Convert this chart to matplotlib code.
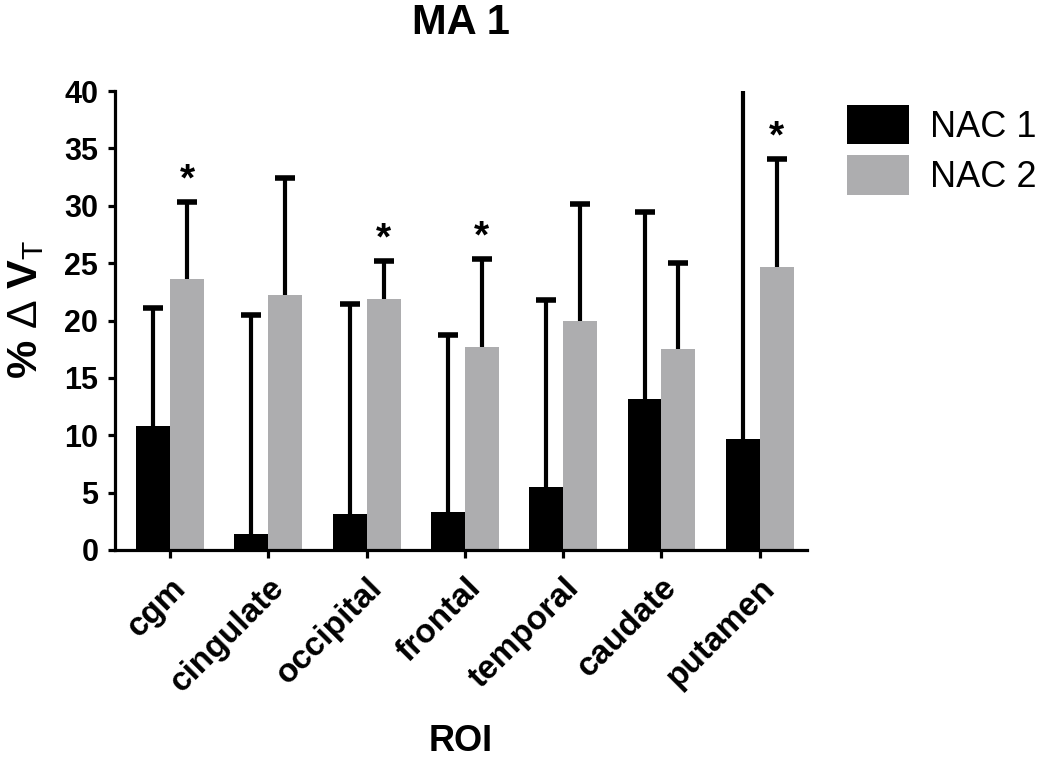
import numpy as np
import matplotlib
matplotlib.use('Agg')
import matplotlib.pyplot as plt

plt.rcParams['font.family'] = ['Liberation Sans', 'DejaVu Sans']
plt.rcParams['mathtext.fontset'] = 'custom'
plt.rcParams['mathtext.rm'] = 'Liberation Sans'
plt.rcParams['mathtext.bf'] = 'Liberation Sans:bold'
plt.rcParams['mathtext.it'] = 'Liberation Sans:italic'

rois = ['cgm', 'cingulate', 'occipital', 'frontal', 'temporal', 'caudate', 'putamen']
nac1 = [10.8, 1.4, 3.1, 3.3, 5.45, 13.2, 9.7]
nac1_top = [21.1, 20.45, 21.4, 18.7, 21.75, 29.5, 45.0]
nac2 = [23.6, 22.2, 21.9, 17.7, 20.0, 17.5, 24.7]
nac2_top = [30.3, 32.4, 25.2, 25.4, 30.2, 25.0, 34.1]
signif = [True, False, True, True, False, False, True]

black = '#000000'
gray = '#adadaf'

fig = plt.figure(figsize=(10.5, 7.59), dpi=100)
ax = fig.add_axes([0.1095, 0.2754, 0.659, 0.6046])

x = np.arange(len(rois))
w = 0.345

ax.bar(x - w/2, nac1, w, color=black, label='NAC 1', zorder=2)
ax.bar(x + w/2, nac2, w, color=gray, label='NAC 2', zorder=2)

# one sided error bars (upper only)
for xs, lo, hi in [(x - w/2, nac1, nac1_top), (x + w/2, nac2, nac2_top)]:
    ax.vlines(xs, lo, hi, color='black', lw=3, zorder=3)
    ax.plot(xs, hi, ls='none', marker='_', ms=15, mew=4, color='black', zorder=3)

for i, s in enumerate(signif):
    if s:
        ax.text(x[i] + w/2, nac2_top[i] + 0.3, '*', ha='center', va='bottom',
                fontsize=28, fontweight='bold')

ax.set_xlim(-0.56, 6.48)
ax.set_ylim(0, 40)
ax.set_yticks(range(0, 41, 5))
ax.set_xticks(x)
ax.set_xticklabels(rois, rotation=45, ha='right', rotation_mode='anchor',
                   fontsize=24, fontweight='bold')
for lab in ax.get_yticklabels():
    lab.set_fontsize(22)
    lab.set_fontweight('bold')

for side in ['top', 'right']:
    ax.spines[side].set_visible(False)
for side in ['left', 'bottom']:
    ax.spines[side].set_linewidth(2.3)
ax.tick_params(axis='y', width=2.3, length=5, direction='out', pad=7)
ax.tick_params(axis='x', width=2.3, length=6, direction='out', pad=10)

ax.set_title('MA 1', fontsize=30, fontweight='bold', pad=41)
fig.text(0.439, 1 - 751/759, 'ROI', fontsize=26, fontweight='bold',
         ha='center', va='baseline')
ax.set_ylabel(r'% $\mathrm{Δ}$ $\mathbf{V}_\mathrm{T}$', fontsize=31,
              fontweight='bold')
ax.yaxis.set_label_coords(-0.1, 0.525)

fig.legend(loc='upper left', bbox_to_anchor=(0.807, 0.862), frameon=False,
           fontsize=26, handlelength=1.7, handleheight=1.3, handletextpad=0.6,
           labelspacing=0.3, borderpad=0, borderaxespad=0)

fig.savefig('out.png', dpi=100)
